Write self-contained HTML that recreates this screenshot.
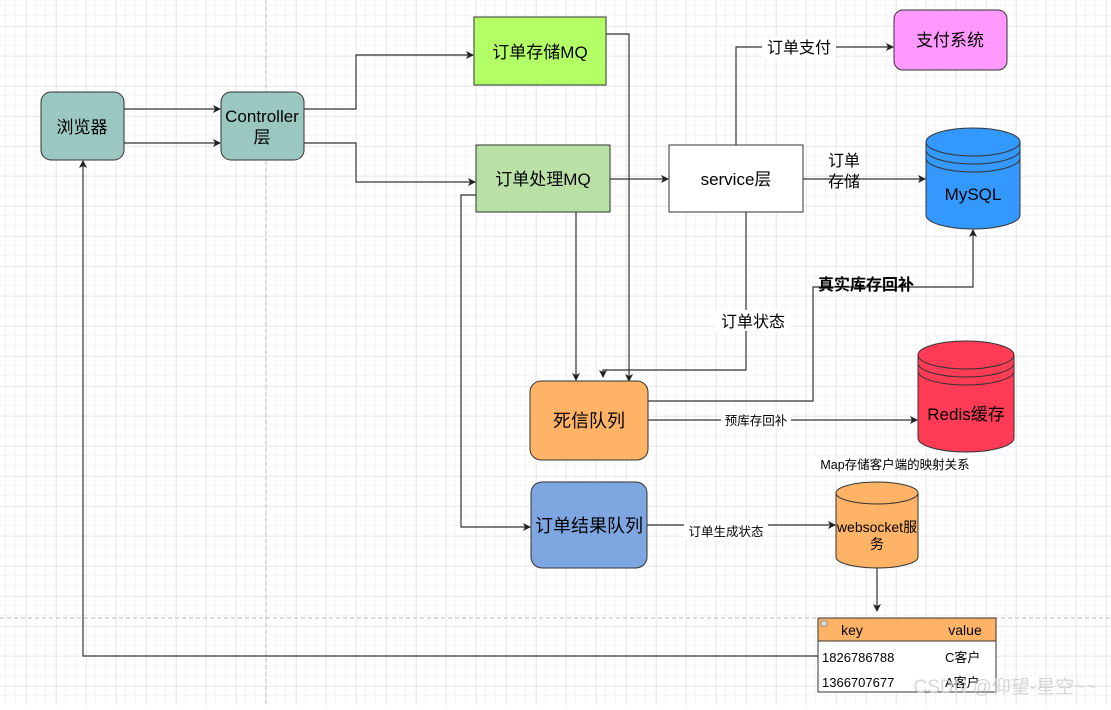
<!DOCTYPE html>
<html><head><meta charset="utf-8"><style>
html,body{margin:0;padding:0;background:#fff}
body{width:1111px;height:705px;overflow:hidden;font-family:"Liberation Sans","Noto Sans CJK SC",sans-serif}
</style></head><body>
<svg width="1111" height="705" xmlns="http://www.w3.org/2000/svg" font-family="Liberation Sans, Noto Sans CJK SC, sans-serif">
<defs>
<pattern id="minor" x="6" y="6" width="10" height="10" patternUnits="userSpaceOnUse"><path d="M10 0V10M0 10H10" stroke="#efefef" stroke-width="1" fill="none"/></pattern>
<pattern id="major" x="26" y="26" width="30" height="30" patternUnits="userSpaceOnUse"><path d="M0 0V30M0 0H30" stroke="#dcdcdc" stroke-width="1" fill="none"/></pattern>
<marker id="a" markerWidth="8" markerHeight="8" refX="7" refY="4" orient="auto" markerUnits="userSpaceOnUse"><path d="M0,0 L8,4 L0,8 L2,4z" fill="#222"/></marker>
</defs>
<rect width="1111" height="705" fill="url(#minor)"/>
<rect width="1111" height="705" fill="url(#major)"/>
<line x1="266" y1="0" x2="266" y2="705" stroke="#bbb" stroke-dasharray="4,3"/>
<line x1="0" y1="618" x2="1111" y2="618" stroke="#bbb" stroke-dasharray="4,3"/>

<g stroke="#333" stroke-width="1.2" fill="none">
<path d="M124 109H220" marker-end="url(#a)"/>
<path d="M124 143H220" marker-end="url(#a)"/>
<path d="M304 109H356V55H473" marker-end="url(#a)"/>
<path d="M304 143H356V182H475" marker-end="url(#a)"/>
<path d="M606 34H629V381" marker-end="url(#a)"/>
<path d="M576 212V380" marker-end="url(#a)"/>
<path d="M476 195H461V527H530" marker-end="url(#a)"/>
<path d="M610 179H668" marker-end="url(#a)"/>
<path d="M736 145V47H893" marker-end="url(#a)"/>
<path d="M803 179H925" marker-end="url(#a)"/>
<path d="M746 212V370H603V377" marker-end="url(#a)"/>
<path d="M648 401H813V287H973V230" marker-end="url(#a)"/>
<path d="M648 420H917" marker-end="url(#a)"/>
<path d="M647 525H835" marker-end="url(#a)"/>
<path d="M877 568V611" marker-end="url(#a)"/>
<path d="M818 656H83V161" marker-end="url(#a)"/>
</g>

<rect x="41" y="92" width="83" height="68" rx="10" fill="#9AC7BF" stroke="#333"/>
<text x="82" y="133" font-size="17" text-anchor="middle">浏览器</text>
<rect x="221" y="92" width="83" height="68" rx="10" fill="#9AC7BF" stroke="#333"/>
<text x="262" y="122" font-size="17" text-anchor="middle">Controller</text>
<text x="262" y="143" font-size="17" text-anchor="middle">层</text>

<rect x="474" y="17" width="132" height="68" fill="#B3FF66" stroke="#333"/>
<text x="540" y="58" font-size="17" text-anchor="middle">订单存储MQ</text>
<rect x="476" y="145" width="134" height="67" fill="#B9E0A5" stroke="#333"/>
<text x="543" y="185" font-size="17" text-anchor="middle">订单处理MQ</text>
<rect x="669" y="145" width="134" height="67" fill="#fff" stroke="#333"/>
<text x="736" y="185" font-size="17" text-anchor="middle">service层</text>
<rect x="894" y="10" width="113" height="60" rx="9" fill="#FF99FF" stroke="#333"/>
<text x="950" y="46" font-size="17" text-anchor="middle">支付系统</text>

<g stroke="#333" stroke-width="1">
<path d="M926 142V215A47 14 0 0 0 1020 215V142" fill="#3399FF"/>
<ellipse cx="973" cy="142" rx="47" ry="14" fill="#3399FF"/>
<path d="M926 150A47 14 0 0 0 1020 150M926 158A47 14 0 0 0 1020 158" fill="none"/>
<path d="M918 355V438A48 14 0 0 0 1014 438V355" fill="#FF3B55"/>
<ellipse cx="966" cy="355" rx="48" ry="14" fill="#FF3B55"/>
<path d="M918 363A48 14 0 0 0 1014 363M918 371A48 14 0 0 0 1014 371" fill="none"/>
<path d="M836 493V557A41 11 0 0 0 918 557V493" fill="#FFB366"/>
<ellipse cx="877" cy="493" rx="41" ry="11" fill="#FFB366"/>
</g>
<text x="973" y="200" font-size="17" text-anchor="middle">MySQL</text>
<text x="966" y="420" font-size="17" text-anchor="middle">Redis缓存</text>
<text x="877" y="532" font-size="14" text-anchor="middle">websocket服</text>
<text x="877" y="549" font-size="14" text-anchor="middle">务</text>

<rect x="530" y="381" width="118" height="79" rx="11" fill="#FFB366" stroke="#333"/>
<text x="589" y="427" font-size="18" text-anchor="middle">死信队列</text>
<rect x="531" y="482" width="116" height="86" rx="11" fill="#7EA6E0" stroke="#333"/>
<text x="589" y="532" font-size="18" text-anchor="middle">订单结果队列</text>

<rect x="818" y="618" width="178" height="74" fill="#fff" stroke="#333"/>
<rect x="818" y="618" width="178" height="23" fill="#FFB366" stroke="#333"/>
<rect x="821" y="621" width="6" height="5" fill="#ddd" stroke="#666" stroke-width="0.6"/>
<text x="852" y="635" font-size="14" text-anchor="middle">key</text>
<text x="965" y="635" font-size="14" text-anchor="middle">value</text>
<text x="822" y="662" font-size="13">1826786788</text>
<text x="945" y="662" font-size="13">C客户</text>
<text x="822" y="687" font-size="13">1366707677</text>
<text x="945" y="687" font-size="13">A客户</text>

<g font-size="16">
<rect x="762" y="37" width="74" height="21" fill="#fff"/>
<text x="799" y="53" text-anchor="middle">订单支付</text>
<text x="828" y="166">订单</text>
<text x="828" y="187">存储</text>
<rect x="715" y="310" width="76" height="21" fill="#fff"/>
<text x="753" y="327" text-anchor="middle">订单状态</text>
<text x="866" y="290" text-anchor="middle" font-weight="bold">真实库存回补</text>
</g>
<g font-size="12.5">
<rect x="721" y="412" width="70" height="16" fill="#fff"/>
<text x="756" y="425" text-anchor="middle">预库存回补</text>
<rect x="684" y="523" width="84" height="16" fill="#fff"/>
<text x="726" y="536" text-anchor="middle">订单生成状态</text>
<rect x="813" y="457" width="166" height="16" fill="#fff"/>
<text x="895" y="469" text-anchor="middle">Map存储客户端的映射关系</text>
</g>
<text x="1005" y="693" font-size="19" fill="#ccc" fill-opacity="0.8" text-anchor="middle">CSDN @仰望-星空~~</text>
</svg>
</body></html>
